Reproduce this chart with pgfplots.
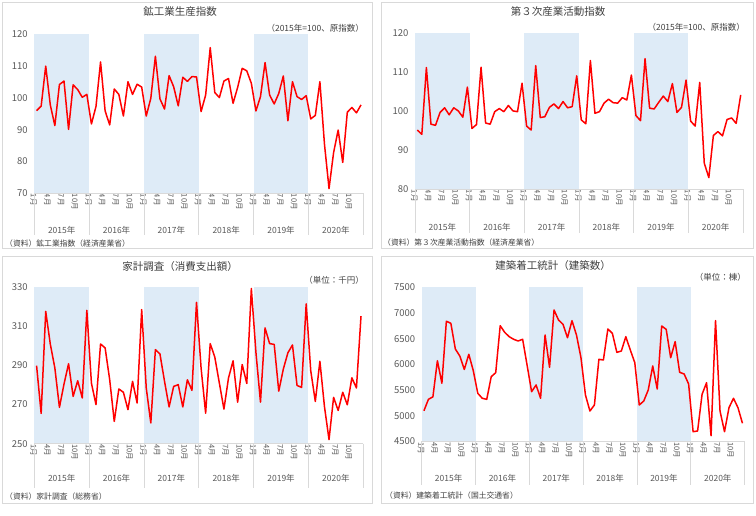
\documentclass[border=0pt]{standalone}
\usepackage{fontspec}
\setmainfont{Noto Sans CJK JP}
\usepackage{pgfplots}
\usepackage{pgfplotstable}
\pgfplotsset{compat=1.18}
\definecolor{bandblue}{HTML}{DEEBF7}
\definecolor{gridc}{HTML}{D9D9D9}
\definecolor{txt}{HTML}{595959}
\definecolor{ttl}{HTML}{404040}
\definecolor{linec}{HTML}{FF0000}

\pgfplotstableread[row sep=\\]{v\\
96.0\\97.4\\110.0\\97.8\\91.3\\104.2\\105.3\\90.1\\104.1\\102.6\\100.2\\101.1\\
91.8\\97.3\\111.3\\95.9\\91.5\\102.8\\101.1\\94.3\\105.1\\101.1\\104.3\\103.4\\
94.3\\99.9\\113.1\\99.7\\96.5\\107.0\\103.5\\97.5\\106.5\\105.2\\106.7\\106.6\\
95.7\\100.9\\115.8\\101.7\\100.1\\105.3\\106.1\\98.3\\103.3\\109.3\\108.5\\104.6\\
95.9\\100.4\\111.1\\100.9\\98.1\\101.4\\106.9\\92.8\\105.1\\100.4\\99.5\\100.7\\
93.4\\94.5\\105.1\\85.5\\71.5\\82.8\\89.9\\79.7\\95.5\\97.0\\95.3\\97.8\\
}\tabA

\pgfplotstableread[row sep=\\]{v\\
95.2\\94.1\\111.2\\96.7\\96.4\\99.7\\100.9\\99.1\\100.9\\100.1\\98.5\\106.2\\
95.6\\96.6\\111.3\\97.0\\96.7\\99.9\\100.7\\99.9\\101.5\\100.1\\99.9\\107.2\\
96.2\\95.2\\111.7\\98.4\\98.6\\101.0\\101.9\\100.7\\102.5\\100.9\\101.2\\109.1\\
97.8\\96.8\\113.0\\99.5\\99.9\\102.1\\103.1\\102.2\\102.1\\103.5\\102.9\\109.3\\
98.9\\97.6\\113.5\\100.8\\100.6\\102.3\\103.9\\102.5\\107.1\\99.7\\101.0\\108.0\\
97.5\\96.2\\107.4\\86.7\\83.0\\93.8\\94.8\\93.7\\97.9\\98.3\\96.9\\104.2\\
}\tabB

\pgfplotstableread[row sep=\\]{v\\
289.9\\265.5\\317.7\\301.0\\288.7\\268.6\\280.5\\290.9\\274.2\\282.2\\273.4\\318.2\\
281.0\\270.0\\301.0\\299.0\\282.7\\261.4\\278.0\\276.3\\267.4\\281.9\\270.8\\318.6\\
278.5\\260.6\\298.1\\295.9\\281.9\\268.8\\279.3\\280.2\\268.8\\282.7\\277.3\\322.3\\
288.7\\265.6\\301.2\\294.3\\281.0\\267.7\\283.6\\292.4\\271.2\\290.5\\280.8\\329.4\\
296.8\\271.3\\309.2\\301.2\\300.8\\276.9\\288.2\\296.5\\300.5\\279.8\\278.8\\321.5\\
287.3\\271.6\\292.2\\269.0\\252.1\\273.7\\267.0\\276.3\\269.9\\283.7\\278.5\\315.3\\
}\tabC

\pgfplotstableread[row sep=\\]{v\\
5095\\5318\\5366\\6070\\5630\\6840\\6798\\6298\\6160\\5900\\6195\\5876\\
5435\\5338\\5318\\5759\\5837\\6752\\6623\\6538\\6487\\6454\\6487\\5980\\
5467\\5597\\5338\\6571\\5942\\7058\\6863\\6779\\6518\\6850\\6571\\6130\\
5402\\5090\\5207\\6097\\6084\\6688\\6604\\6233\\6259\\6538\\6279\\6032\\
5207\\5285\\5500\\5967\\5519\\6746\\6681\\6129\\6441\\5844\\5811\\5616\\
4687\\4701\\5416\\5642\\4609\\6850\\5090\\4687\\5155\\5338\\5155\\4851\\
}\tabD

\pgfplotsset{
  panel/.style={
    scale only axis, anchor=south west, clip=false,
    xmin=-0.5, xmax=71.5,
    axis line style={draw=none},
    major tick length=0pt,
    xtick={0,3,...,69},
    xticklabels={1月,4月,7月,10月,1月,4月,7月,10月,1月,4月,7月,10月,1月,4月,7月,10月,1月,4月,7月,10月,1月,4月,7月,10月},
    xticklabel style={rotate=-90, anchor=west, font=\fontsize{7.5}{8}\selectfont, text=txt, inner sep=0.5pt, yshift=-3pt},
    yticklabel style={font=\fontsize{9.5}{10}\selectfont, text=txt, xshift=-3pt},
    /pgf/number format/assume math mode=true,
    /pgf/number format/1000 sep={},
    scaled y ticks=false,
  },
  redline/.style={color=linec, line width=1.5pt, no marks, line join=round},
}

\newcommand{\decor}[3]{%
  \fill[bandblue] (axis cs:-0.5,#1) rectangle (axis cs:11.5,#2);
  \fill[bandblue] (axis cs:23.5,#1) rectangle (axis cs:35.5,#2);
  \fill[bandblue] (axis cs:47.5,#1) rectangle (axis cs:59.5,#2);
  \draw[gridc, line width=0.8pt] (axis cs:-0.5,#1) -- (axis cs:71.5,#1);
  \draw[gridc, line width=0.8pt] (axis cs:-0.5,#1) -- ++(0pt,-#3);
  \draw[gridc, line width=0.8pt] (axis cs:11.5,#1) -- ++(0pt,-#3);
  \draw[gridc, line width=0.8pt] (axis cs:23.5,#1) -- ++(0pt,-#3);
  \draw[gridc, line width=0.8pt] (axis cs:35.5,#1) -- ++(0pt,-#3);
  \draw[gridc, line width=0.8pt] (axis cs:47.5,#1) -- ++(0pt,-#3);
  \draw[gridc, line width=0.8pt] (axis cs:59.5,#1) -- ++(0pt,-#3);
  \draw[gridc, line width=0.8pt] (axis cs:71.5,#1) -- ++(0pt,-#3);
}
\newcommand{\years}[2]{%
  \node[font=\fontsize{8.5}{9}\selectfont, text=txt] at ([yshift=-#2]axis cs:5.5,#1) {2015年};
  \node[font=\fontsize{8.5}{9}\selectfont, text=txt] at ([yshift=-#2]axis cs:17.5,#1) {2016年};
  \node[font=\fontsize{8.5}{9}\selectfont, text=txt] at ([yshift=-#2]axis cs:29.5,#1) {2017年};
  \node[font=\fontsize{8.5}{9}\selectfont, text=txt] at ([yshift=-#2]axis cs:41.5,#1) {2018年};
  \node[font=\fontsize{8.5}{9}\selectfont, text=txt] at ([yshift=-#2]axis cs:53.5,#1) {2019年};
  \node[font=\fontsize{8.5}{9}\selectfont, text=txt] at ([yshift=-#2]axis cs:65.5,#1) {2020年};
}

\begin{document}
\begin{tikzpicture}[x=1pt,y=1pt]
\useasboundingbox (0,0) rectangle (756,515);
\fill[white] (0,0) rectangle (756,515);
% panel borders
\draw[gridc, line width=0.8pt] (2.7,267) rectangle (372.7,512.3);
\draw[gridc, line width=0.8pt] (381.3,267) rectangle (753.5,512.3);
\draw[gridc, line width=0.8pt] (2.7,12) rectangle (372.7,259);
\draw[gridc, line width=0.8pt] (381.3,11.5) rectangle (753.5,259);

% titles
\node[font=\fontsize{10.5}{12}\selectfont, text=ttl] at (180,503) {鉱工業生産指数};
\node[font=\fontsize{10.5}{12}\selectfont, text=ttl] at (558,503) {第３次産業活動指数};
\node[font=\fontsize{10.5}{12}\selectfont, text=ttl] at (180,248) {家計調査（消費支出額）};
\node[font=\fontsize{10.5}{12}\selectfont, text=ttl] at (553,249) {建築着工統計（建築数）};
% units
\node[font=\fontsize{8.5}{10}\selectfont, text=ttl, anchor=east, inner sep=0pt] at (364,487) {（2015年=100、原指数）};
\node[font=\fontsize{8.5}{10}\selectfont, text=ttl, anchor=east, inner sep=0pt] at (745,488) {（2015年=100、原指数）};
\node[font=\fontsize{8.5}{10}\selectfont, text=ttl, anchor=east, inner sep=0pt] at (364,235) {（単位：千円）};
\node[font=\fontsize{8.5}{10}\selectfont, text=ttl, anchor=east, inner sep=0pt] at (746,238) {（単位：棟）};
% sources
\node[font=\fontsize{7.8}{9}\selectfont, text=ttl, anchor=west, inner sep=0pt] at (5,271) {（資料）鉱工業指数（経済産業省）};
\node[font=\fontsize{7.8}{9}\selectfont, text=ttl, anchor=west, inner sep=0pt] at (383,272) {（資料）第３次産業活動指数（経済産業省）};
\node[font=\fontsize{7.8}{9}\selectfont, text=ttl, anchor=west, inner sep=0pt] at (5,18) {（資料）家計調査（総務省）};
\node[font=\fontsize{7.8}{9}\selectfont, text=ttl, anchor=west, inner sep=0pt] at (385,19) {（資料）建築着工統計（国土交通省）};

\begin{axis}[panel, at={(34.3pt,321.7pt)}, width=329pt, height=159pt,
  ymin=70, ymax=120, ytick={70,80,...,120}]
  \decor{70}{120}{42pt}
  \addplot[redline] table[x expr=\coordindex, y=v] {\tabA};
  \years{70}{37pt}
\end{axis}

\begin{axis}[panel, at={(415pt,325.7pt)}, width=328pt, height=156pt,
  ymin=80, ymax=120, ytick={80,90,...,120}]
  \decor{80}{120}{44pt}
  \addplot[redline] table[x expr=\coordindex, y=v] {\tabB};
  \years{80}{38pt}
\end{axis}

\begin{axis}[panel, at={(34.3pt,71.3pt)}, width=329pt, height=156.4pt,
  ymin=250, ymax=330, ytick={250,270,...,330}]
  \decor{250}{330}{44pt}
  \addplot[redline] table[x expr=\coordindex, y=v] {\tabC};
  \years{250}{35pt}
\end{axis}

\begin{axis}[panel, at={(421.7pt,73.7pt)}, width=323pt, height=154pt,
  ymin=4500, ymax=7500, ytick={4500,5000,...,7500}]
  \decor{4500}{7500}{44pt}
  \addplot[redline] table[x expr=\coordindex, y=v] {\tabD};
  \years{4500}{37pt}
\end{axis}
\end{tikzpicture}
\end{document}
